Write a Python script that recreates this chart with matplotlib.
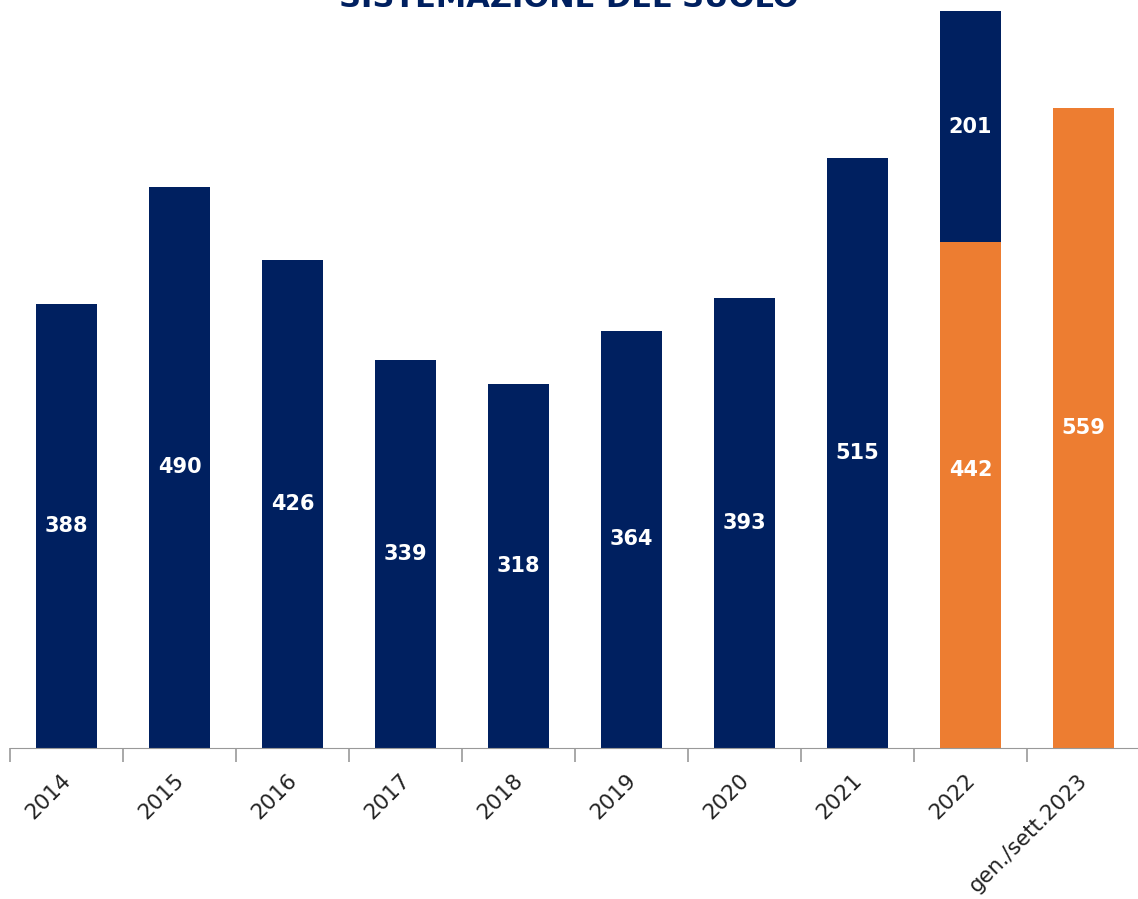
import matplotlib.pyplot as plt
import matplotlib.transforms as mtransforms
import numpy as np

categories = ['2014', '2015', '2016', '2017', '2018', '2019', '2020', '2021', '2022', 'gen./sett.2023']
navy_vals = [388, 490, 426, 339, 318, 364, 393, 515, 0, 0]
orange_vals = [0, 0, 0, 0, 0, 0, 0, 0, 442, 559]
navy_top_2022 = 201

navy = '#002060'
orange = '#ED7D31'

fig = plt.figure(figsize=(11.38, 8.99), dpi=100)
ax = fig.add_axes([0.0088, 0.168, 0.993, 0.832])

X = np.arange(len(categories))
w = 0.54
ax.bar(X, navy_vals, w, color=navy)
ax.bar(X, orange_vals, w, color=orange)
ax.bar(X[8], navy_top_2022, w, bottom=orange_vals[8], color=navy)

lab = dict(ha='center', va='center', color='white', fontsize=15, fontweight='bold')
for x, v in zip(X, navy_vals):
    if v:
        ax.text(x, v / 2, '%d' % v, **lab)
ax.text(X[8], orange_vals[8] * 0.55, '%d' % orange_vals[8], **lab)
ax.text(X[9], orange_vals[9] / 2, '%d' % orange_vals[9], **lab)
ax.text(X[8], orange_vals[8] + navy_top_2022 / 2, '%d' % navy_top_2022, **lab)

ax.set_xlim(-0.5, len(categories) - 0.5)
ax.set_ylim(0, 653)
ax.set_yticks([])
for s in ['left', 'right', 'top']:
    ax.spines[s].set_visible(False)
ax.spines['bottom'].set_color('#999999')

ax.set_xticks(X)
ax.set_xticklabels(categories, rotation=45, ha='right', rotation_mode='anchor',
                   fontsize=15.5, color='#222222')
ax.tick_params(axis='x', which='major', length=0, pad=16)
# nudge labels a little left
shift = mtransforms.ScaledTranslation(-6 / 100, 0, fig.dpi_scale_trans)
for t in ax.get_xticklabels():
    t.set_transform(t.get_transform() + shift)
ax.set_xticks(np.arange(-0.5, len(categories), 1.0), minor=True)
ax.tick_params(axis='x', which='minor', length=10, width=1.2, color='#999999', direction='out')

fig.text(0.5, 1 - 7 / 899, 'SISTEMAZIONE DEL SUOLO', ha='center', va='baseline',
         fontsize=22, fontweight='bold', color=navy)

fig.savefig('out.png', dpi=100)
